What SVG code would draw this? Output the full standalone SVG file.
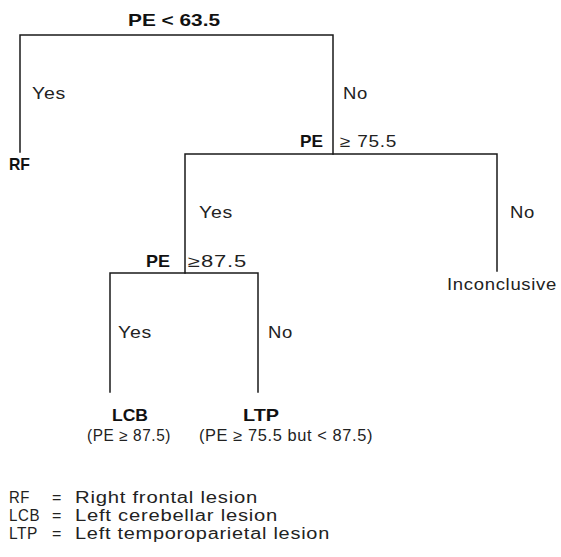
<svg xmlns="http://www.w3.org/2000/svg" width="561" height="557" viewBox="0 0 561 557">
  <style>
    .edge { stroke: #1a1a1a; stroke-width: 1.5; fill: none; stroke-linecap: square; }
    .b { font-family: "Liberation Sans", Arial, sans-serif; font-weight: bold; font-size: 17px; fill: #111; }
    .r { font-family: "Liberation Sans", Arial, sans-serif; font-size: 16px; fill: #222; letter-spacing: 0.6px; }
  </style>
  <rect width="561" height="557" fill="#ffffff"/>

  <!-- tree connectors -->
  <g id="connectors">
    <path class="edge" d="M20,152 V35 H333 V154"/>
    <path class="edge" d="M185,273 V154 H497 V271"/>
    <path class="edge" d="M110,392 V273 H258 V392"/>
  </g>

  <!-- split: PE < 63.5 -->
  <g id="split-root">
    <text class="b" x="128" y="26" font-size="18" textLength="92" lengthAdjust="spacingAndGlyphs">PE &lt; 63.5</text>
    <text class="r" x="32" y="99" textLength="34" lengthAdjust="spacingAndGlyphs">Yes</text>
    <text class="r" x="343" y="99" textLength="25" lengthAdjust="spacingAndGlyphs">No</text>
  </g>

  <!-- split: PE >= 75.5 -->
  <g id="split-755">
    <text class="b" x="300" y="147" textLength="23" lengthAdjust="spacingAndGlyphs">PE</text>
    <text class="r" x="340" y="147" textLength="57" lengthAdjust="spacingAndGlyphs">≥ 75.5</text>
    <text class="r" x="199" y="218" textLength="34" lengthAdjust="spacingAndGlyphs">Yes</text>
    <text class="r" x="510" y="218" textLength="25" lengthAdjust="spacingAndGlyphs">No</text>
  </g>

  <!-- split: PE >= 87.5 -->
  <g id="split-875">
    <text class="b" x="146" y="267" textLength="24" lengthAdjust="spacingAndGlyphs">PE</text>
    <text class="r" x="188" y="267" textLength="59" lengthAdjust="spacingAndGlyphs">≥87.5</text>
    <text class="r" x="118" y="338" textLength="34" lengthAdjust="spacingAndGlyphs">Yes</text>
    <text class="r" x="268" y="338" textLength="25" lengthAdjust="spacingAndGlyphs">No</text>
  </g>

  <!-- leaves -->
  <g id="leaf-rf">
    <text class="b" x="9" y="170" textLength="21" lengthAdjust="spacingAndGlyphs">RF</text>
  </g>
  <g id="leaf-inconclusive">
    <text class="r" x="447" y="290" textLength="110" lengthAdjust="spacingAndGlyphs">Inconclusive</text>
  </g>
  <g id="leaf-lcb">
    <text class="b" x="112" y="421" textLength="36" lengthAdjust="spacingAndGlyphs">LCB</text>
    <text class="r" x="87" y="441" textLength="84" lengthAdjust="spacingAndGlyphs">(PE ≥ 87.5)</text>
  </g>
  <g id="leaf-ltp">
    <text class="b" x="243" y="421" textLength="36" lengthAdjust="spacingAndGlyphs">LTP</text>
    <text class="r" x="199" y="441" textLength="174" lengthAdjust="spacingAndGlyphs">(PE ≥ 75.5 but &lt; 87.5)</text>
  </g>

  <!-- abbreviations -->
  <g id="legend">
    <text class="r" x="9" y="503" textLength="21" lengthAdjust="spacingAndGlyphs">RF</text>
    <text class="r" x="52" y="503">=</text>
    <text class="r" x="75" y="503" textLength="183" lengthAdjust="spacingAndGlyphs">Right frontal lesion</text>
    <text class="r" x="9" y="521" textLength="31" lengthAdjust="spacingAndGlyphs">LCB</text>
    <text class="r" x="52" y="521">=</text>
    <text class="r" x="75" y="521" textLength="203" lengthAdjust="spacingAndGlyphs">Left cerebellar lesion</text>
    <text class="r" x="9" y="539" textLength="29" lengthAdjust="spacingAndGlyphs">LTP</text>
    <text class="r" x="52" y="539">=</text>
    <text class="r" x="75" y="539" textLength="255" lengthAdjust="spacingAndGlyphs">Left temporoparietal lesion</text>
  </g>
</svg>
